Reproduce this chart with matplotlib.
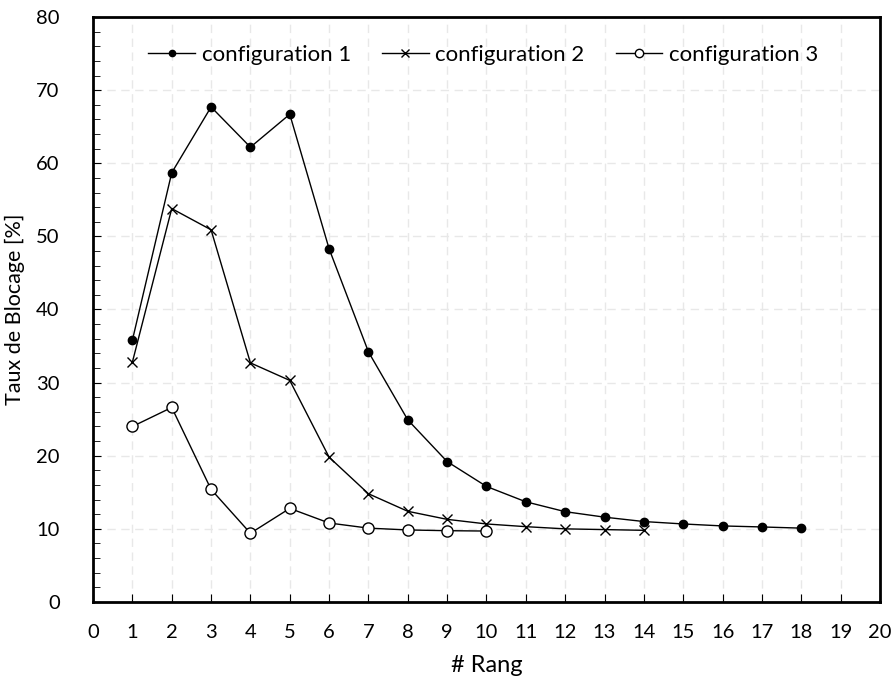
import matplotlib
matplotlib.use("Agg")
import matplotlib.pyplot as plt
from matplotlib.ticker import MultipleLocator

plt.rcParams['font.family'] = ['Lato', 'DejaVu Sans']

# data
rang_1 = list(range(1, 19))
config_1 = [35.8, 58.7, 67.7, 62.2, 66.7, 48.3, 34.2, 24.9, 19.2, 15.8,
            13.7, 12.35, 11.6, 11.0, 10.67, 10.4, 10.26, 10.1]
rang_2 = list(range(1, 15))
config_2 = [32.8, 53.8, 50.9, 32.7, 30.3, 19.8, 14.8, 12.4, 11.3, 10.67,
            10.3, 10.0, 9.9, 9.8]
rang_3 = list(range(1, 11))
config_3 = [24.0, 26.6, 15.4, 9.4, 12.8, 10.8, 10.1, 9.85, 9.75, 9.7]

fig = plt.figure(figsize=(8.92, 6.89), dpi=100)
ax = fig.add_axes([0.1043, 0.1263, 0.8822, 0.849])

ax.plot(rang_1, config_1, color='black', lw=1, marker='o', ms=6,
        mfc='black', mec='black', label='configuration 1', zorder=3)
ax.plot(rang_2, config_2, color='black', lw=1, marker='x', ms=7,
        mew=1, label='configuration 2', zorder=3)
ax.plot(rang_3, config_3, color='black', lw=1, marker='o', ms=8,
        mfc='white', mec='black', mew=1, label='configuration 3', zorder=3)

ax.set_xlim(0, 20)
ax.set_ylim(0, 80)
ax.xaxis.set_major_locator(MultipleLocator(1))
ax.yaxis.set_major_locator(MultipleLocator(10))
ax.yaxis.set_minor_locator(MultipleLocator(2))
ax.tick_params(axis='both', which='both', direction='in', labelsize=14.5, color='black')
ax.tick_params(axis='x', which='major', length=6, pad=16)
ax.tick_params(axis='y', which='major', length=6, pad=24)
ax.tick_params(axis='y', which='minor', length=5)
ax.tick_params(top=False, right=False)

ax.grid(True, which='major', color='#e8e8e8', linestyle=(0, (6, 4)), lw=1, zorder=0)
for s in ax.spines.values():
    s.set_linewidth(2)
    s.set_color('black')

ax.set_xlabel('# Rang', fontsize=17, labelpad=10)
ax.set_ylabel('Taux de Blocage [%]', fontsize=15.5, labelpad=8)

ax.legend(loc='center', bbox_to_anchor=(0.496, 0.935), ncol=3, frameon=False,
          fontsize=16, handlelength=2.1, handletextpad=0.3, columnspacing=1.4,
          markerscale=0.75)

fig.savefig('out.png', dpi=100)
